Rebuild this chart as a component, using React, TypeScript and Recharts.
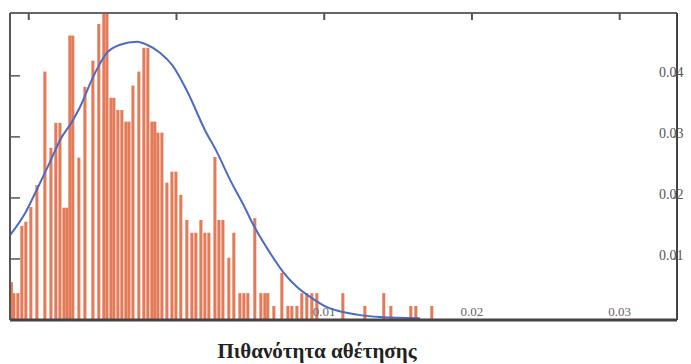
import React from 'react';
import { ComposedChart, Bar, Line, XAxis, YAxis } from 'recharts';

// histogram bins: bin centre (probability of default) and height (density)
const binX = [
  -0.01117, -0.011, -0.01073, -0.01046, -0.01019, -0.00985, -0.00944, -0.0089, -0.00849, -0.00816,
  -0.00788, -0.00761, -0.00741, -0.00721, -0.00701, -0.0066, -0.00619, -0.00565, -0.00525, -0.00491,
  -0.0047, -0.00443, -0.00423, -0.00396, -0.00369, -0.00342, -0.00321, -0.00294, -0.00254, -0.0022,
  -0.00193, -0.00166, -0.00146, -0.00125, -0.00098, -0.00064, -0.0003, -0.00003, 0.0003, 0.00071,
  0.00105, 0.00132, 0.00166, 0.00193, 0.0022, 0.00261, 0.00288, 0.00315, 0.00355, 0.00389,
  0.0043, 0.00457, 0.00484, 0.00531, 0.00572, 0.00599, 0.00619, 0.0066, 0.00714, 0.00755,
  0.00782, 0.00816, 0.00849, 0.00883, 0.00917, 0.00951, 0.01127, 0.01276, 0.01404, 0.01452,
  0.01587, 0.01621, 0.01729,
];
const binHeight = [
  0.0062, 0.0044, 0.0044, 0.0154, 0.0161, 0.0185, 0.0221, 0.0407, 0.0282, 0.0323,
  0.0323, 0.0184, 0.0184, 0.0466, 0.0466, 0.0266, 0.0382, 0.0425, 0.0485, 0.0503,
  0.0503, 0.0364, 0.0364, 0.0344, 0.0344, 0.0325, 0.0325, 0.0384, 0.0407, 0.0446,
  0.0446, 0.0325, 0.0325, 0.0307, 0.0307, 0.0225, 0.0243, 0.0243, 0.0205, 0.0164,
  0.0143, 0.0143, 0.0164, 0.0143, 0.0143, 0.0267, 0.0164, 0.0164, 0.0102, 0.0143,
  0.0044, 0.0044, 0.0044, 0.0167, 0.0044, 0.0044, 0.0044, 0.0023, 0.0077, 0.0023,
  0.0023, 0.0023, 0.0044, 0.0044, 0.0044, 0.0044, 0.0044, 0.0023, 0.0044, 0.0023,
  0.0023, 0.0023, 0.0023,
];

// fitted density curve
const curveX = [
  -0.01127, -0.01025, -0.00937, -0.00856, -0.00788, -0.00707, -0.00653, -0.00565, -0.0047, -0.00382,
  -0.00267, -0.002, -0.00112, -0.0003, 0.00078, 0.00193, 0.00274, 0.00362, 0.0045, 0.00531,
  0.00633, 0.00721, 0.00816, 0.00904, 0.01019, 0.01127, 0.01242, 0.01377, 0.01648,
];
const curveY = [
  0.0139, 0.0175, 0.0218, 0.0259, 0.0295, 0.0325, 0.0349, 0.0398, 0.0438, 0.0451,
  0.0456, 0.0451, 0.0438, 0.0418, 0.0372, 0.0311, 0.0275, 0.023, 0.019, 0.0151,
  0.011, 0.0079, 0.0054, 0.0038, 0.0021, 0.0013, 0.0008, 0.0005, 0.0003,
];

const topTicks = [-0.01, 0, 0.01, 0.02, 0.03];
const bottomTicks = [0.01, 0.02, 0.03];
const valueTicks = [0.01, 0.02, 0.03, 0.04];

const bars = binX.map((x, i) => ({ x, h: binHeight[i] }));
const curve = curveX.map((x, i) => ({ x, y: curveY[i] }));

const X_DOMAIN: [number, number] = [-0.01127, 0.03388];
const Y_DOMAIN: [number, number] = [0, 0.0503];

const Empty = () => <g />;

const RightTick = (props: any) => {
  const { x, y, payload } = props;
  return (
    <text x={x - 12} y={y + 1} fill="#555" fontSize={14} fontFamily="Liberation Serif">
      {payload.value}
    </text>
  );
};

const BottomTick = (props: any) => {
  const { x, y, payload } = props;
  return (
    <text x={x} y={y - 2} textAnchor="middle" fill="#666" fontSize={13} fontFamily="Liberation Serif">
      {payload.value}
    </text>
  );
};

// slightly wider bars than recharts allows for such close bins
const BinShape = (props: any) => {
  const { x, y, width, height } = props;
  if (!height) return <g />;
  return <rect x={x - 0.4} y={y} width={width + 0.8} height={height} fill="#e47a58" />;
};

export default function App() {
  return (
    <div style={{ position: 'absolute', left: 0, top: 0, width: 691, height: 364, background: '#fff' }}>
      <ComposedChart width={691} height={364} data={bars} margin={{ top: 13, right: 14, bottom: 44, left: 10 }}>
        <XAxis
          xAxisId="top"
          type="number"
          dataKey="x"
          orientation="top"
          mirror
          domain={X_DOMAIN}
          allowDataOverflow
          ticks={topTicks}
          tick={Empty}
          tickSize={7}
          tickLine={{ stroke: '#555', strokeWidth: 2 }}
          axisLine={{ stroke: '#666', strokeWidth: 2 }}
        />
        <XAxis
          xAxisId="bottom"
          type="number"
          dataKey="x"
          orientation="bottom"
          mirror
          domain={X_DOMAIN}
          allowDataOverflow
          ticks={bottomTicks}
          tick={BottomTick}
          tickLine={false}
          tickSize={0}
          axisLine={{ stroke: '#4a4242', strokeWidth: 3 }}
        />
        <YAxis
          yAxisId="left"
          orientation="left"
          mirror
          domain={Y_DOMAIN}
          allowDataOverflow
          ticks={valueTicks}
          tick={Empty}
          tickSize={10}
          tickLine={{ stroke: '#555', strokeWidth: 1.5 }}
          axisLine={{ stroke: '#555', strokeWidth: 2 }}
        />
        <YAxis
          yAxisId="right"
          orientation="right"
          mirror
          domain={Y_DOMAIN}
          allowDataOverflow
          ticks={valueTicks}
          tick={RightTick}
          tickSize={4}
          tickLine={{ stroke: '#555', strokeWidth: 1 }}
          axisLine={{ stroke: '#444', strokeWidth: 2 }}
        />
        <Bar
          xAxisId="bottom"
          yAxisId="left"
          dataKey="h"
          barSize={3}
          fill="#e47a58"
          shape={BinShape}
          isAnimationActive={false}
        />
        <Line
          xAxisId="top"
          yAxisId="left"
          data={curve}
          dataKey="y"
          type="monotone"
          stroke="#4b6cc4"
          strokeWidth={2}
          dot={false}
          isAnimationActive={false}
        />
      </ComposedChart>
      <div
        style={{
          position: 'absolute',
          left: 0,
          top: 339,
          width: 634,
          textAlign: 'center',
          fontFamily: 'Liberation Serif',
          fontWeight: 'bold',
          fontSize: 21,
          color: '#222',
          whiteSpace: 'nowrap',
        }}
      >
        Πιθανότητα αθέτησης
      </div>
    </div>
  );
}
